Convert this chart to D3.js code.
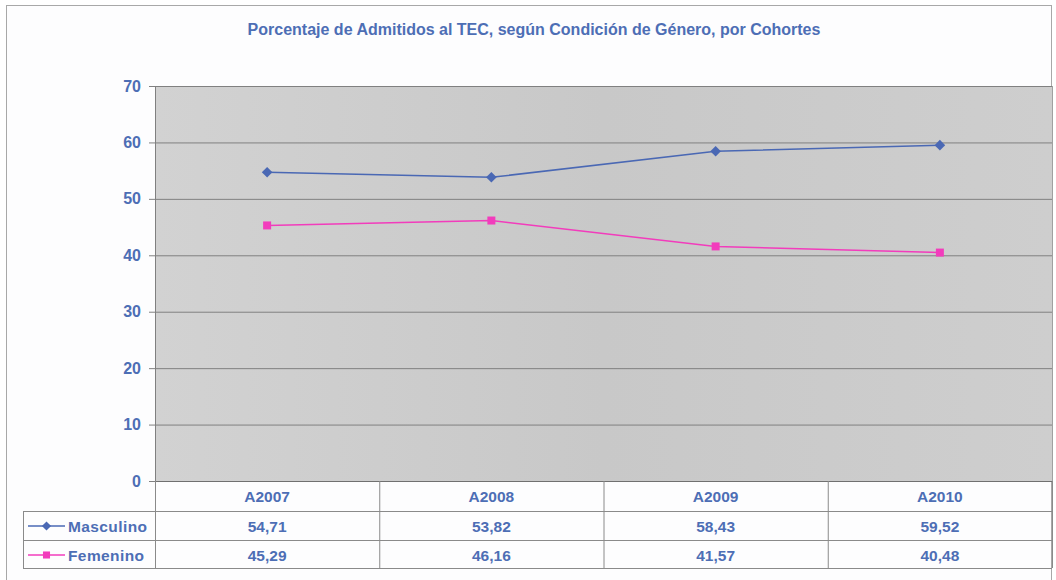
<!DOCTYPE html>
<html>
<head>
<meta charset="utf-8">
<script src="https://cdn.jsdelivr.net/npm/d3@7"></script>
<style>
  body { margin: 0; background: #fff; }
  svg { font-family: "Liberation Sans", Arial, sans-serif; font-weight: bold; }
</style>
</head>
<body>
<svg id="svg" width="1056" height="580"></svg>
<script>
// DATA
var cohorts = ["A2007", "A2008", "A2009", "A2010"];
var masculino = [54.71, 53.82, 58.43, 59.52];
var femenino = [45.29, 46.16, 41.57, 40.48];
var yTicks = [0, 10, 20, 30, 40, 50, 60, 70];

var series = [
  { name: "Masculino", values: masculino, color: "#4a68b4", rot: 45 },
  { name: "Femenino", values: femenino, color: "#f23cbc", rot: 0 }
];

var textColor = "#4d6eb5";
var svg = d3.select("#svg");
var margin = { top: 86, left: 155, right: 4, bottom: 99 };
var width = 1056 - margin.left - margin.right,
  height = 580 - margin.top - margin.bottom;

// outer frame
svg.append("rect")
  .attr("x", 6.5).attr("y", 5.5)
  .attr("width", 1045).attr("height", 580)
  .attr("fill", "#fdfdfe")
  .attr("stroke", "#a8a8a8");

// title
svg.append("text")
  .attr("x", 534).attr("y", 35)
  .attr("text-anchor", "middle")
  .attr("fill", textColor)
  .attr("font-size", 16)
  .text("Porcentaje de Admitidos al TEC, según Condición de Género, por Cohortes");

var x = d3.scaleBand().domain(cohorts).range([0, width]);
var y = d3.scaleLinear().domain([0, 70]).range([height, 0]);

var g = svg.append("g")
  .attr("transform", "translate(" + margin.left + "," + margin.top + ")");

var defs = svg.append("defs");
var grad = defs.append("linearGradient").attr("id", "bg");
grad.append("stop").attr("offset", "0%").attr("stop-color", "#d2d2d2");
grad.append("stop").attr("offset", "50%").attr("stop-color", "#c8c8c8");
grad.append("stop").attr("offset", "100%").attr("stop-color", "#cecece");

g.append("rect")
  .attr("width", width).attr("height", height)
  .attr("fill", "url(#bg)");

// gridlines
g.selectAll(".grid")
  .data(yTicks.filter(function (d) { return d > 0; }))
  .enter().append("line")
  .attr("class", "grid")
  .attr("x1", 0).attr("x2", width)
  .attr("y1", function (d) { return y(d) + 0.5; })
  .attr("y2", function (d) { return y(d) + 0.5; })
  .attr("stroke", "#808080")
  .attr("stroke-width", 1);

// y axis
var yAxis = g.append("g")
  .call(d3.axisLeft(y).tickValues(yTicks).tickSize(6).tickPadding(8));
yAxis.select(".domain").attr("stroke", "#808080");
yAxis.selectAll(".tick line").attr("stroke", "#808080");
yAxis.selectAll(".tick text")
  .attr("fill", textColor)
  .attr("font-size", 16)
  .attr("font-weight", "bold")
  .attr("font-family", "Liberation Sans, Arial, sans-serif");

// right border of plot
g.append("line")
  .attr("x1", width + 0.5).attr("x2", width + 0.5)
  .attr("y1", 0).attr("y2", height)
  .attr("stroke", "#a0a0a0");

// lines
var line = d3.line()
  .x(function (d, i) { return x(cohorts[i]) + x.bandwidth() / 2; })
  .y(function (d) { return y(d); });

series.forEach(function (s) {
  g.append("path")
    .datum(s.values)
    .attr("fill", "none")
    .attr("stroke", s.color)
    .attr("stroke-width", 1.5)
    .attr("d", line);

  g.selectAll(".pt-" + s.name)
    .data(s.values)
    .enter().append("path")
    .attr("d", d3.symbol().type(d3.symbolSquare).size(s.rot ? 56 : 64))
    .attr("transform", function (d, i) {
      return "translate(" + (x(cohorts[i]) + x.bandwidth() / 2) + "," + y(d) + ") rotate(" + s.rot + ")";
    })
    .attr("fill", s.color);
});

// data table
var tableLeft = 23 - margin.left;
var rowH = [height, height + 30, height + 59, height + 87];
var t = g.append("g").attr("stroke", "#8a8a8a").attr("stroke-width", 1);

// horizontal lines
t.append("line").attr("x1", 0).attr("x2", width).attr("y1", rowH[0] + 0.5).attr("y2", rowH[0] + 0.5).attr("stroke", "#707070");
[1, 2, 3].forEach(function (k) {
  t.append("line")
    .attr("x1", tableLeft).attr("x2", width)
    .attr("y1", rowH[k] + 0.5).attr("y2", rowH[k] + 0.5);
});
// vertical lines
t.append("line").attr("x1", tableLeft + 0.5).attr("x2", tableLeft + 0.5)
  .attr("y1", rowH[1]).attr("y2", rowH[3]);
cohorts.forEach(function (c) {
  t.append("line").attr("x1", x(c) + 0.5).attr("x2", x(c) + 0.5)
    .attr("y1", rowH[0]).attr("y2", rowH[3]);
});
t.append("line").attr("x1", width + 0.5).attr("x2", width + 0.5)
  .attr("y1", rowH[0]).attr("y2", rowH[3]);

// header labels
g.selectAll(".hdr")
  .data(cohorts)
  .enter().append("text")
  .attr("x", function (d) { return x(d) + x.bandwidth() / 2; })
  .attr("y", rowH[0] + 21)
  .attr("text-anchor", "middle")
  .attr("fill", textColor)
  .attr("font-size", 15.5)
  .text(function (d) { return d; });

var fmt = function (v) { return v.toFixed(2).replace(".", ","); };

series.forEach(function (s, k) {
  var yy = rowH[k + 1] + 21;
  // legend key
  var kx0 = tableLeft + 5, kx1 = tableLeft + 42;
  g.append("line")
    .attr("x1", kx0).attr("x2", kx1)
    .attr("y1", yy - 6).attr("y2", yy - 6)
    .attr("stroke", s.color).attr("stroke-width", 1.5);
  g.append("path")
    .attr("d", d3.symbol().type(d3.symbolSquare).size(s.rot ? 42 : 50))
    .attr("transform", "translate(" + ((kx0 + kx1) / 2) + "," + (yy - 6) + ") rotate(" + s.rot + ")")
    .attr("fill", s.color);
  g.append("text")
    .attr("x", tableLeft + 45)
    .attr("y", yy)
    .attr("fill", textColor)
    .attr("font-size", 15.5)
    .attr("letter-spacing", 0.4)
    .text(s.name);

  g.selectAll(".val-" + s.name)
    .data(s.values)
    .enter().append("text")
    .attr("x", function (d, i) { return x(cohorts[i]) + x.bandwidth() / 2; })
    .attr("y", yy)
    .attr("text-anchor", "middle")
    .attr("fill", textColor)
    .attr("font-size", 15.5)
    .text(fmt);
});
</script>
</body>
</html>
